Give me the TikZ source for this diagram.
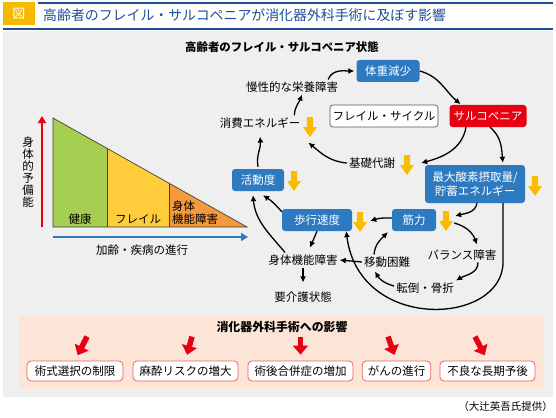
\documentclass[tikz,border=0pt]{standalone}
\usepackage{fontspec}
\setmainfont{Noto Sans CJK JP}
\usepackage{tikz}
\usetikzlibrary{arrows.meta}

\definecolor{titleblue}{RGB}{29,78,150}
\definecolor{figyellow}{RGB}{245,185,0}
\definecolor{panelgray}{RGB}{239,239,239}
\definecolor{boxblue}{RGB}{46,122,192}
\definecolor{sarcored}{RGB}{230,0,18}
\definecolor{markyellow}{RGB}{250,188,0}
\definecolor{healthgreen}{RGB}{166,206,80}
\definecolor{frailyellow}{RGB}{255,205,60}
\definecolor{disorange}{RGB}{244,154,60}
\definecolor{impactpink}{RGB}{252,228,214}
\definecolor{impactred}{RGB}{232,100,100}

% yellow down mark at (x,y)
\newcommand{\ydown}[2]{\fill[markyellow] ({#1-3.2},{#2-10}) -- ({#1+3.2},{#2-10}) -- ({#1+3.2},{#2}) -- ({#1+7},{#2}) -- (#1,{#2+10}) -- ({#1-7},{#2}) -- ({#1-3.2},{#2}) -- cycle;}

\begin{document}
\begin{tikzpicture}[x=1pt,y=-1pt, every node/.style={font=\fontsize{11.5}{14}\selectfont},
  bluebox/.style={fill=boxblue, text=white, rounded corners=3pt, minimum height=22pt, inner sep=1pt},
  redbox/.style={fill=sarcored, text=white, rounded corners=3pt, minimum height=22pt, inner sep=1pt},
  cyclebox/.style={draw=black!65, fill=white, rounded corners=3pt, minimum height=22pt, inner sep=1pt, line width=0.7pt},
  lbl/.style={inner sep=2pt},
  conn/.style={-{Latex[length=6pt,width=6pt]}, line width=1.3pt},
  impactbox/.style={draw=impactred, fill=white, rounded corners=4pt, line width=0.8pt, minimum height=20pt, inner xsep=5.5pt, inner ysep=1pt},
  redarrow/.style={sarcored, line width=5.5pt, -{Triangle[length=9pt,width=15pt]}, shorten >=6pt},
  tridraw/.style={draw=black!75, line width=0.7pt}]
  \useasboundingbox (0,0) rectangle (556,417);

  % title bar
  \node[fill=figyellow, text=white, minimum width=32pt, minimum height=23pt, inner sep=0, font=\fontsize{13}{15}\selectfont] (fig) at (19,13.5) {図};
  \draw[titleblue, line width=1.5pt] (38,3) -- (553,3);
  \node[anchor=west, inner sep=0, text=titleblue, font=\fontsize{13.9}{16}\selectfont] (title) at (43,15) {高齢者のフレイル・サルコペニアが消化器外科手術に及ぼす影響};
  \draw[titleblue, line width=2pt] (3,29.5) -- (553,29.5);
  \fill[panelgray] (3,31) rectangle (553,397);

  % reserve triangle
  \fill[healthgreen] (53,118) -- (107,148.3) -- (107,227) -- (53,227) -- cycle;
  \fill[frailyellow] (107,148.3) -- (169,183.2) -- (169,227) -- (107,227) -- cycle;
  \fill[disorange] (169,183.2) -- (247,227) -- (169,227) -- cycle;
  \draw[tridraw] (53,118) -- (247,227) -- (53,227) -- cycle;
  \draw[tridraw] (107,148.3) -- (107,227);
  \draw[tridraw] (169,183.2) -- (169,227);
  \draw[sarcored, line width=2pt, -{Triangle[length=7pt,width=8pt]}] (42,227) -- (42,116);
  \draw[boxblue, line width=1.5pt, -{Triangle[length=7pt,width=8pt]}] (53,237) -- (248,237);
  \node[align=center, font=\fontsize{11.5}{12}\selectfont] (reserve) at (28,172) {身\\体\\的\\予\\備\\能};
  \node (health) at (80,219) {健康};
  \node (frail) at (138,219) {フレイル};
  \node[anchor=west, align=left, inner sep=0, font=\fontsize{11.5}{13}\selectfont] (disab) at (172,213) {身体\\機能障害};
  \node (aging) at (142,250) {加齢・疾病の進行};

  % frailty cycle
  \node[font=\bfseries\fontsize{11.4}{14}\selectfont] (state) at (282,47) {高齢者のフレイル・サルコペニア状態};
  \node[bluebox, minimum width=63pt] (weight) at (388,71) {体重減少};
  \node[lbl] (nutri) at (292,87) {慢性的な栄養障害};
  \node[cyclebox, minimum width=108pt] (cycle) at (384,116) {フレイル・サイクル};
  \node[redbox, minimum width=77pt] (sarco) at (488,116) {サルコペニア};
  \node[lbl] (energy) at (260,123) {消費エネルギー};
  \node[lbl] (basal) at (372,163) {基礎代謝};
  \node[bluebox, minimum width=100pt, minimum height=38pt, align=center] (vo2) at (475,184) {最大酸素摂取量/\\貯蓄エネルギー};
  \node[bluebox, minimum width=52pt] (activity) at (258,180) {活動度};
  \node[bluebox, minimum width=70pt] (walk) at (317,220) {歩行速度};
  \node[bluebox, minimum width=44pt] (muscle) at (414,220) {筋力};
  \node[lbl] (balance) at (462,255) {バランス障害};
  \node[lbl] (physical) at (303,260) {身体機能障害};
  \node[lbl] (mobility) at (387,262) {移動困難};
  \node[lbl] (fall) at (425,288) {転倒・骨折};
  \node[lbl] (care) at (303,297) {要介護状態};

  \foreach \px/\py in {310/127, 407/165, 535/186, 294/181, 360/222, 446/221}
    {\ydown{\px}{\py}}

  \draw[conn, shorten >=2pt] ([xshift=-12pt]nutri.north east) to[out=70,in=180] (weight.west);
  \draw[conn, shorten >=1pt] (weight.east) to[out=-15,in=140] ([xshift=12pt]sarco.north west);
  \draw[conn] ([xshift=-22pt]sarco.south) to[out=-100,in=15] ([xshift=24pt]basal.east);
  \draw[conn, shorten >=2pt] ([xshift=2pt]sarco.south) to[out=-40,in=95] ([xshift=28pt]vo2.north);
  \draw[conn] (basal.west) to[out=175,in=-40] ([xshift=6pt,yshift=-12pt]energy.south east);
  \draw[conn] ([xshift=-8pt]energy.north east) to[out=90,in=-110] ([xshift=10pt]nutri.south);
  \draw[conn] ([yshift=2pt]activity.north) to[out=100,in=-85] ([yshift=-6pt]energy.south);
  \draw[conn] ([xshift=2pt]vo2.south) to[out=-100,in=15] ([xshift=19pt,yshift=4pt]muscle.east);
  \draw[conn] ([xshift=18pt,yshift=-3pt]muscle.east) to[out=-15,in=110] ([xshift=15pt,yshift=3pt]balance.north);
  \draw[conn] ([xshift=16pt]balance.south) to[out=-90,in=30] (fall.north east);
  \draw[conn] ([yshift=2pt]fall.west) to[out=165,in=-60] ([xshift=-12pt,yshift=-2pt]mobility.south);
  \draw[conn] ([xshift=-13pt]mobility.north) to[out=85,in=-135] ([xshift=-4pt,yshift=-1pt]muscle.south west);
  \draw[conn] (mobility.west) -- (physical.east);
  \draw[conn] ([yshift=2pt]muscle.west) to[bend right=10] ([xshift=18pt,yshift=-1pt]walk.east);
  \draw[conn] ([yshift=-3pt]walk.north west) to[bend right=8] ([xshift=5pt,yshift=-4pt]activity.south);
  \draw[conn] ([xshift=-18pt]physical.north) to[out=130,in=-85] ([xshift=-5pt,yshift=-4pt]activity.south);
  \draw[conn] (walk.south) -- ([xshift=7pt,yshift=5pt]physical.north);
  \draw[conn] (physical.south) -- ([yshift=7pt]care.north);
  \draw[conn] ([xshift=28pt]vo2.south) -- ++(0,59) .. controls +(0,63) and +(13,102) .. ([xshift=-6pt]walk.south east);

  % impact on surgery
  \fill[impactpink] (19,315) rectangle (544,389);
  \node[font=\bfseries\fontsize{11.9}{14}\selectfont] (impact) at (282,327) {消化器外科手術への影響};
  \node[impactbox, minimum width=96pt] (b1) at (75,371) {術式選択の制限};
  \node[impactbox, minimum width=105pt] (b2) at (185.5,371) {麻酔リスクの増大};
  \node[impactbox, minimum width=105pt] (b3) at (300.5,371) {術後合併症の増加};
  \node[impactbox, minimum width=65pt] (b4) at (396.5,371) {がんの進行};
  \node[impactbox, minimum width=95pt] (b5) at (487.5,371) {不良な長期予後};
  \foreach \b/\dx in {b1/12, b2/6.5, b3/0, b4/-8.5, b5/-12.5}
    \draw[redarrow] ([shift={(\dx pt,24pt)}]\b.north) -- (\b.north);

  \node[anchor=east, inner sep=0, font=\fontsize{10.5}{12}\selectfont] (credit) at (553,407) {（大辻英吾氏提供）};
\end{tikzpicture}
\end{document}
